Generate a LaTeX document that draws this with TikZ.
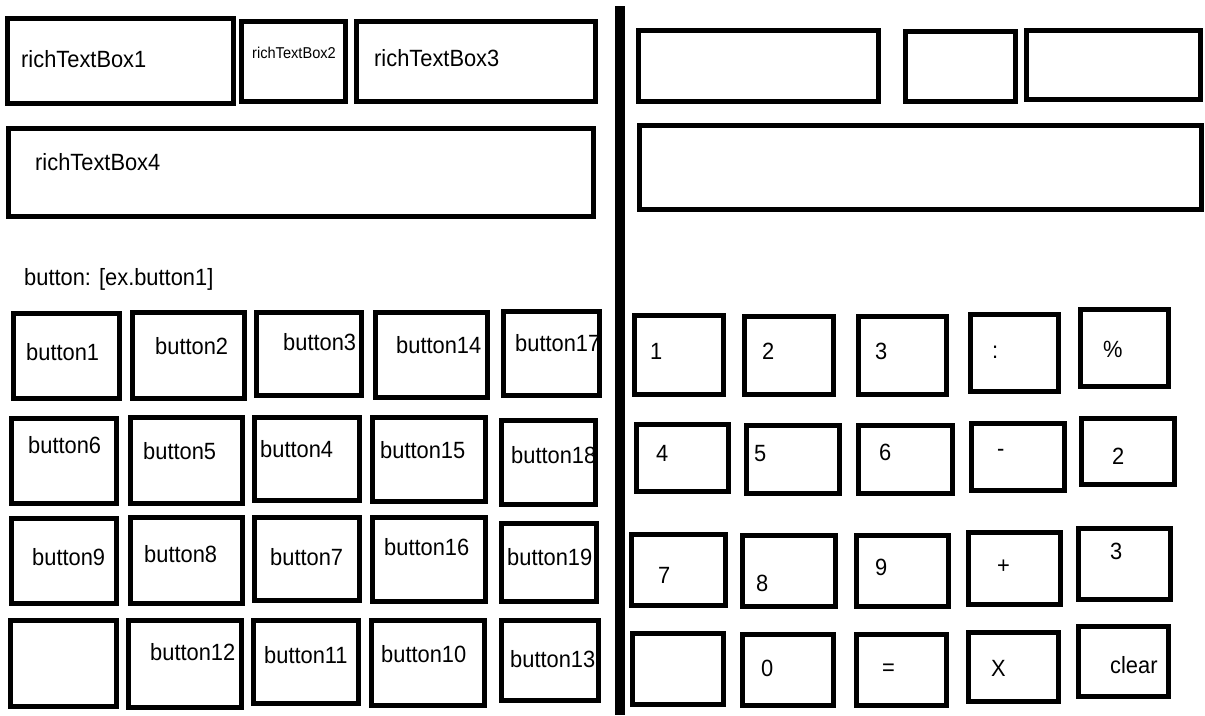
\documentclass[tikz,border=0pt]{standalone}
\usepackage{fontspec}
\newfontfamily\sketchfont{Liberation Sans}[FakeStretch=0.93]

\begin{document}
\begin{tikzpicture}[x=1pt,y=-1pt,
    box/.style={draw,rectangle,line width=5pt,inner sep=0pt,outer sep=0pt,
                anchor=north west},
    wh/.style 2 args={minimum width=#1,minimum height=#2},
    lbl/.style={anchor=west,inner sep=0pt,text height=16.8pt,text depth=0pt,
                font=\sketchfont\fontsize{23.5}{28}\selectfont},
    small lbl/.style={lbl,text height=11.2pt,
                font=\sketchfont\fontsize{15.7}{19}\selectfont}]

  \useasboundingbox (0,0) rectangle (1205,715);

  % divider
  \coordinate (divtop) at (620,6);
  \coordinate (divbot) at (620,715);
  \draw[line width=10pt] (divtop) -- (divbot);

  % left half: text boxes
  \node[box,wh={226}{85}] (rtb1) at (7.5,18.5) {};
  \node[box,wh={104}{80}] (rtb2) at (241.5,21.5) {};
  \node[box,wh={239}{80}] (rtb3) at (356.5,21.5) {};
  \node[box,wh={585}{88}] (rtb4) at (8.5,128.5) {};

  \node[lbl]       (rtb1t) at (21,59)  {richTextBox1};
  \node[small lbl] (rtb2t) at (252,53) {richTextBox2};
  \node[lbl]       (rtb3t) at (374,58) {richTextBox3};
  \node[lbl]       (rtb4t) at (35,162) {richTextBox4};
  \node[lbl]       (info)  at (24,277) {button: [ex.button1]};

  % left half: buttons
  \node[box,wh={106}{85}] (b1)  at (13.5,313.5)  {};
  \node[box,wh={112}{86}] (b2)  at (132.5,312.5) {};
  \node[box,wh={105}{83}] (b3)  at (256.5,312.5) {};
  \node[box,wh={112}{85}] (b14) at (375.5,312.5) {};
  \node[box,wh={96}{84}]  (b17) at (503.5,311.5) {};

  \node[box,wh={105}{85}] (b6)  at (11.5,418.5)  {};
  \node[box,wh={112}{86}] (b5)  at (130.5,417.5) {};
  \node[box,wh={105}{83}] (b4)  at (254.5,417.5) {};
  \node[box,wh={113}{84}] (b15) at (372.5,417.5) {};
  \node[box,wh={94}{84}]  (b18) at (501.5,420.5) {};

  \node[box,wh={105}{85}] (b9)  at (11.5,518.5)  {};
  \node[box,wh={112}{86}] (b8)  at (130.5,517.5) {};
  \node[box,wh={105}{83}] (b7)  at (254.5,517.5) {};
  \node[box,wh={113}{84}] (b16) at (372.5,517.5) {};
  \node[box,wh={95}{78}]  (b19) at (501.5,523.5) {};

  \node[box,wh={106}{86}] (b0)  at (10.5,620.5)  {};
  \node[box,wh={113}{87}] (b12) at (128.5,620.5) {};
  \node[box,wh={105}{83}] (b11) at (253.5,620.5) {};
  \node[box,wh={113}{85}] (b10) at (371.5,620.5) {};
  \node[box,wh={97}{80}]  (b13) at (501.5,620.5) {};

  \node[lbl] (b1t)  at (26,352)  {button1};
  \node[lbl] (b2t)  at (155,346) {button2};
  \node[lbl] (b3t)  at (283,342) {button3};
  \node[lbl] (b14t) at (396,345) {button14};
  \node[lbl] (b17t) at (515,343) {button17};

  \node[lbl] (b6t)  at (28,445)  {button6};
  \node[lbl] (b5t)  at (143,451) {button5};
  \node[lbl] (b4t)  at (260,449) {button4};
  \node[lbl] (b15t) at (380,450) {button15};
  \node[lbl] (b18t) at (511,455) {button18};

  \node[lbl] (b9t)  at (32,557)  {button9};
  \node[lbl] (b8t)  at (144,554) {button8};
  \node[lbl] (b7t)  at (270,557) {button7};
  \node[lbl] (b16t) at (384,547) {button16};
  \node[lbl] (b19t) at (507,557) {button19};

  \node[lbl] (b12t) at (150,652) {button12};
  \node[lbl] (b11t) at (264,655) {button11};
  \node[lbl] (b10t) at (381,654) {button10};
  \node[lbl] (b13t) at (510,659) {button13};

  % right half: displays
  \node[box,wh={240}{71}] (dispA) at (638.5,30.5)  {};
  \node[box,wh={110}{70}] (dispB) at (905.5,31.5)  {};
  \node[box,wh={174}{69}] (dispC) at (1026.5,30.5) {};
  \node[box,wh={562}{84}] (dispD) at (639.5,125.5) {};

  % right half: keys
  \node[box,wh={89}{79}] (k1)    at (634.5,315.5)  {};
  \node[box,wh={89}{78}] (k2)    at (744.5,316.5)  {};
  \node[box,wh={88}{78}] (k3)    at (858.5,316.5)  {};
  \node[box,wh={88}{77}] (kdiv)  at (970.5,314.5)  {};
  \node[box,wh={88}{77}] (kpct)  at (1080.5,309.5) {};

  \node[box,wh={92}{67}] (k4)    at (636.5,424.5)  {};
  \node[box,wh={93}{68}] (k5)    at (746.5,425.5)  {};
  \node[box,wh={94}{68}] (k6)    at (858.5,425.5)  {};
  \node[box,wh={93}{67}] (kmin)  at (971.5,423.5)  {};
  \node[box,wh={93}{66}] (ksq)   at (1081.5,418.5) {};

  \node[box,wh={94}{71}] (k7)    at (631.5,534.5)  {};
  \node[box,wh={93}{71}] (k8)    at (742.5,535.5)  {};
  \node[box,wh={92}{71}] (k9)    at (856.5,535.5)  {};
  \node[box,wh={92}{72}] (kplus) at (968.5,532.5)  {};
  \node[box,wh={92}{71}] (kcube) at (1078.5,528.5) {};

  \node[box,wh={91}{71}] (kblank) at (632.5,633.5) {};
  \node[box,wh={91}{71}] (k0)    at (742.5,634.5)  {};
  \node[box,wh={90}{71}] (keq)   at (856.5,634.5)  {};
  \node[box,wh={90}{69}] (kmul)  at (968.5,632.5)  {};
  \node[box,wh={90}{70}] (kclr)  at (1078.5,626.5) {};

  \node[lbl] (k1t)    at (650,351)  {1};
  \node[lbl] (k2t)    at (762,351)  {2};
  \node[lbl] (k3t)    at (875,351)  {3};
  \node[lbl] (kdivt)  at (992,350)  {:};
  \node[lbl] (kpctt)  at (1103,349) {\%};

  \node[lbl] (k4t)    at (656,453)  {4};
  \node[lbl] (k5t)    at (754,453)  {5};
  \node[lbl] (k6t)    at (879,452)  {6};
  \node[lbl] (kmint)  at (997,448)  {-};
  \node[lbl] (ksqt)   at (1112,456) {2};

  \node[lbl] (k7t)    at (658,575)  {7};
  \node[lbl] (k8t)    at (756,583)  {8};
  \node[lbl] (k9t)    at (875,567)  {9};
  \node[lbl] (kplust) at (997,565)  {+};
  \node[lbl] (kcubet) at (1110,551) {3};

  \node[lbl] (k0t)    at (761,668)  {0};
  \node[lbl] (keqt)   at (882,667)  {=};
  \node[lbl] (kmult)  at (991,668)  {X};
  \node[lbl] (kclrt)  at (1110,665) {clear};

\end{tikzpicture}
\end{document}
